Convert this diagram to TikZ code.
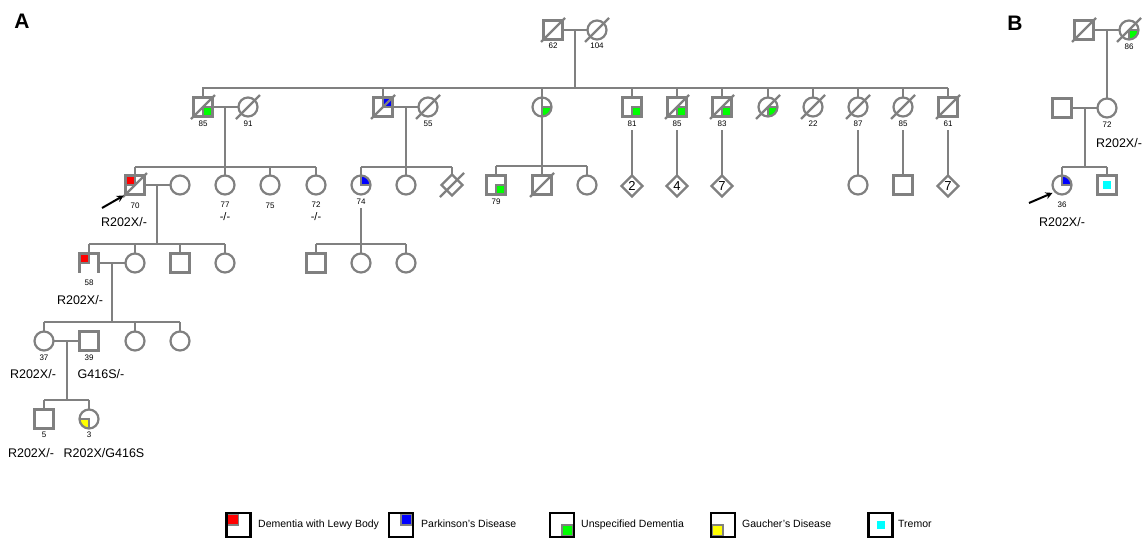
\documentclass[tikz,border=0pt]{standalone}
\usepackage{fontspec}
\setmainfont{Liberation Sans}
\usetikzlibrary{shapes.geometric,arrows.meta}
\definecolor{lin}{RGB}{128,128,128}
\definecolor{cred}{RGB}{255,0,0}
\definecolor{cblue}{RGB}{0,0,255}
\definecolor{cgreen}{RGB}{0,255,0}
\definecolor{cyell}{RGB}{255,255,0}
\definecolor{ccyan}{RGB}{0,255,255}
% deceased: slash through the symbol
\newcommand\dslash[1]{\draw[conn] ([shift={(-12pt,-12pt)}]#1.center) -- ([shift={(12pt,12pt)}]#1.center);}
\begin{document}
\begin{tikzpicture}[x=1pt,y=-1pt,
  conn/.style={draw=lin, line width=2.2pt},
  ind/.style={draw=lin, line width=2.2pt, inner sep=0pt, outer sep=0pt, fill=white},
  male/.style={ind, rectangle, minimum size=19pt},
  female/.style={ind, circle, minimum size=19pt},
  unk/.style={ind, diamond, minimum size=21pt, font=\fontsize{13}{13}\selectfont},
  age/.style={font=\fontsize{8}{8}\selectfont, inner sep=0pt, text height=5.8pt, text depth=0pt},
  geno/.style={font=\fontsize{12.5}{12.5}\selectfont, inner sep=0pt, text height=9pt, text depth=0pt},
  ltext/.style={font=\fontsize{10.5}{10.5}\selectfont, inner sep=0pt, anchor=west, text height=7.6pt, text depth=0pt},
  panel/.style={font=\fontsize{21}{21}\selectfont\bfseries, inner sep=0pt},
  lbox/.style={draw=black, line width=2.5pt, rectangle, minimum size=24pt, inner sep=0pt, outer sep=0pt, fill=white},
  qNW/.style={path picture={\filldraw[fill=#1,draw=lin,line width=1.2pt] (path picture bounding box.center) rectangle ([shift={(1pt,-1pt)}]path picture bounding box.north west);}},
  qNE/.style={path picture={\filldraw[fill=#1,draw=lin,line width=1.2pt] (path picture bounding box.center) rectangle ([shift={(-1pt,-1pt)}]path picture bounding box.north east);}},
  qSE/.style={path picture={\filldraw[fill=#1,draw=lin,line width=1.2pt] (path picture bounding box.center) rectangle ([shift={(-1pt,1pt)}]path picture bounding box.south east);}},
  qSW/.style={path picture={\filldraw[fill=#1,draw=lin,line width=1.2pt] (path picture bounding box.center) rectangle ([shift={(1pt,1pt)}]path picture bounding box.south west);}},
  parrow/.style={draw=black, line width=2pt, -{Stealth[length=7pt,width=7pt]}}
]
\useasboundingbox (0,0) rectangle (1142,539);

\node[panel] (pA) at (22,21) {A};
\node[panel] (pB) at (1015,23) {B};

% ---------------- Panel A ----------------
% Generation I
\node[male] (I1) at (553,30) {}; \dslash{I1}
\node[female] (I2) at (597,30) {}; \dslash{I2}
\node[age] (aI1) at (553,46) {62};
\node[age] (aI2) at (597,46) {104};
\draw[conn] (I1.east) -- (I2.west);
\coordinate (mI) at (575,30);
\coordinate (s2L) at (202,88);
\coordinate (s2R) at (948,88);
\draw[conn] (mI) -- (mI |- s2L);
\draw[conn] (s2L) -- (s2R);

% Generation II
\node[male, qSE=cgreen] (II1) at (203,107) {}; \dslash{II1}
\node[female] (II2) at (248,107) {}; \dslash{II2}
\node[male, qNE=cblue] (II3) at (383,107) {}; \dslash{II3}
\node[female] (II4) at (428,107) {}; \dslash{II4}
\node[female, qSE=cgreen] (II5) at (542,107) {};
\node[male, qSE=cgreen] (II6) at (632,107) {};
\node[male, qSE=cgreen] (II7) at (677,107) {}; \dslash{II7}
\node[male, qSE=cgreen] (II8) at (722,107) {}; \dslash{II8}
\node[female, qSE=cgreen] (II9) at (768,107) {}; \dslash{II9}
\node[female] (II10) at (813,107) {}; \dslash{II10}
\node[female] (II11) at (858,107) {}; \dslash{II11}
\node[female] (II12) at (903,107) {}; \dslash{II12}
\node[male] (II13) at (948,107) {}; \dslash{II13}
\foreach \n in {II1,II3,II5,II6,II7,II8,II9,II10,II11,II12,II13}
  \draw[conn] (\n |- s2L) -- (\n.north);

\node[age] (aII1) at (203,124) {85};
\node[age] (aII2) at (248,124) {91};
\node[age] (aII4) at (428,124) {55};
\node[age] (aII6) at (632,124) {81};
\node[age] (aII7) at (677,124) {85};
\node[age] (aII8) at (722,124) {83};
\node[age] (aII10) at (813,124) {22};
\node[age] (aII11) at (858,124) {87};
\node[age] (aII12) at (903,124) {85};
\node[age] (aII13) at (948,124) {61};

% Generation III
\node[male, qNW=cred] (III1) at (135,185) {}; \dslash{III1}
\node[female] (III2) at (180,185) {};
\node[female] (III3) at (225,185) {};
\node[female] (III4) at (270,185) {};
\node[female] (III5) at (316,185) {};
\node[female, qNE=cblue] (III6) at (361,185) {};
\node[female] (III7) at (406,185) {};
\node[unk] (III8) at (452,185) {}; \dslash{III8}
\node[male, qSE=cgreen] (III9) at (496,185) {};
\node[male] (III10) at (542,185) {}; \dslash{III10}
\node[female] (III11) at (587,185) {};
\node[unk] (III12) at (632,186) {2};
\node[unk] (III13) at (677,186) {4};
\node[unk] (III14) at (722,186) {7};
\node[female] (III15) at (858,185) {};
\node[male] (III16) at (903,185) {};
\node[unk] (III17) at (948,186) {7};

% family of II1 x II2
\draw[conn] (II1.east) -- (II2.west);
\coordinate (m1) at (225,107);
\coordinate (s3a) at (135,167);
\draw[conn] (m1) -- (m1 |- s3a);
\draw[conn] (III1 |- s3a) -- (III5 |- s3a);
\foreach \n in {III1,III3,III4,III5}
  \draw[conn] (\n |- s3a) -- (\n.north);

% family of II3 x II4
\draw[conn] (II3.east) -- (II4.west);
\coordinate (m2) at (406,107);
\coordinate (s3b) at (361,167);
\draw[conn] (m2) -- (m2 |- s3b);
\draw[conn] (III6 |- s3b) -- (III8 |- s3b);
\foreach \n in {III6,III7,III8}
  \draw[conn] (\n |- s3b) -- (\n.north);

% offspring of II5
\coordinate (s3c) at (496,166);
\draw[conn] (II5.north) -- (II5 |- s3c);
\draw[conn] (III9 |- s3c) -- (III11 |- s3c);
\foreach \n in {III9,III10,III11}
  \draw[conn] (\n |- s3c) -- (\n.north);

% single lines of descent
\draw[conn] (aII6.south) ++(0,3) -- (III12.north);
\draw[conn] (aII7.south) ++(0,3) -- (III13.north);
\draw[conn] (aII8.south) ++(0,3) -- (III14.north);
\draw[conn] (aII11.south) ++(0,3) -- (III15.north);
\draw[conn] (aII12.south) ++(0,3) -- (III16.north);
\draw[conn] (aII13.south) ++(0,3) -- (III17.north);

\node[age] (aIII1) at (135,206) {70};
\node[age] (aIII3) at (225,205) {77};
\node[age] (aIII4) at (270,206) {75};
\node[age] (aIII5) at (316,205) {72};
\node[age] (aIII6) at (361,202) {74};
\node[age] (aIII9) at (496,202) {79};
\node[geno, font=\fontsize{11}{11}\selectfont, text height=6pt] (gIII3) at (225,217) {-/-};
\node[geno, font=\fontsize{11}{11}\selectfont, text height=6pt] (gIII5) at (316,217) {-/-};
\node[geno] (gIII1) at (124,222) {R202X/-};
\coordinate (prA) at (102,208);
\draw[parrow, shorten >=2pt] (prA) -- (III1.south west);

% Generation IV
\node[female] (IV2) at (135,263) {};
\node[male, draw=none, qNW=cred] (IV1) at (89,263) {};
\draw[conn] (IV1.south west) -- (IV1.north west) -- (IV1.north east) -- (IV1.south east);
\node[male] (IV3) at (180,263) {};
\node[female] (IV4) at (225,263) {};
\node[male] (IV5) at (316,263) {};
\node[female] (IV6) at (361,263) {};
\node[female] (IV7) at (406,263) {};

\draw[conn] (III1.east) -- (III2.west);
\coordinate (m3) at (157,185);
\coordinate (s4a) at (89,244);
\draw[conn] (m3) -- (m3 |- s4a);
\draw[conn] (IV1 |- s4a) -- (IV4 |- s4a);
\foreach \n in {IV1,IV2,IV3,IV4}
  \draw[conn] (\n |- s4a) -- (\n.north);

\coordinate (s4b) at (316,244);
\draw[conn] (aIII6.south) ++(0,3) -- (III6 |- s4b);
\draw[conn] (IV5 |- s4b) -- (IV7 |- s4b);
\foreach \n in {IV5,IV6,IV7}
  \draw[conn] (\n |- s4b) -- (\n.north);

\node[age] (aIV1) at (89,283) {58};
\node[geno] (gIV1) at (80,300) {R202X/-};

% Generation V
\node[female] (V1) at (44,341) {};
\node[male] (V2) at (89,341) {};
\node[female] (V3) at (135,341) {};
\node[female] (V4) at (180,341) {};
\draw[conn] (IV1.east) -- (IV2.west);
\coordinate (m4) at (112,263);
\coordinate (s5) at (44,322);
\draw[conn] (m4) -- (m4 |- s5);
\draw[conn] (V1 |- s5) -- (V4 |- s5);
\foreach \n in {V1,V3,V4}
  \draw[conn] (\n |- s5) -- (\n.north);
\node[age] (aV1) at (44,358) {37};
\node[age] (aV2) at (89,358) {39};
\node[geno] (gV1) at (33,374) {R202X/-};
\node[geno] (gV2) at (101,374) {G416S/-};

% Generation VI
\node[male] (VI1) at (44,419) {};
\node[female, qSW=cyell] (VI2) at (89,419) {};
\draw[conn] (V1.east) -- (V2.west);
\coordinate (m5) at (67,341);
\coordinate (s6) at (44,400);
\draw[conn] (m5) -- (m5 |- s6);
\draw[conn] (VI1 |- s6) -- (VI2 |- s6);
\foreach \n in {VI1,VI2}
  \draw[conn] (\n |- s6) -- (\n.north);
\node[age] (aVI1) at (44,435) {5};
\node[age] (aVI2) at (89,435) {3};
\node[geno] (gVI1) at (31,453) {R202X/-};
\node[geno] (gVI2) at (104,453) {R202X/G416S};

% ---------------- Panel B ----------------
\node[male] (B1) at (1084,30) {}; \dslash{B1}
\node[female, qSE=cgreen] (B2) at (1129,30) {}; \dslash{B2}
\node[age] (aB2) at (1129,47) {86};
\node[male] (B3) at (1062,108) {};
\node[female] (B4) at (1107,108) {};
\node[age] (aB4) at (1107,125) {72};
\node[geno] (gB4) at (1119,143) {R202X/-};
\node[female, qNE=cblue] (B5) at (1062,185) {};
\node[male] (B6) at (1107,185) {};
\node[fill=ccyan, minimum size=8pt, inner sep=0pt] (B6c) at (B6.center) {};
\node[age] (aB5) at (1062,205) {36};
\node[geno] (gB5) at (1062,222) {R202X/-};

\draw[conn] (B1.east) -- (B2.west);
\coordinate (mB1) at (1107,30);
\draw[conn] (mB1) -- (B4.north);
\draw[conn] (B3.east) -- (B4.west);
\coordinate (mB2) at (1085,108);
\coordinate (sB) at (1062,167);
\draw[conn] (mB2) -- (mB2 |- sB);
\draw[conn] (B5 |- sB) -- (B6 |- sB);
\foreach \n in {B5,B6}
  \draw[conn] (\n |- sB) -- (\n.north);
\coordinate (prB) at (1029,203);
\draw[parrow, shorten >=3pt] (prB) -- (B5.south west);

% ---------------- Legend ----------------
\node[lbox, qNW=cred] (L1) at (238.5,525) {};
\node[ltext] (T1) at (258,524) {Dementia with Lewy Body};
\node[lbox, qNE=cblue] (L2) at (401,525) {};
\node[ltext] (T2) at (421,524) {Parkinson's Disease};
\node[lbox, qSE=cgreen] (L3) at (562,525) {};
\node[ltext] (T3) at (581,524) {Unspecified Dementia};
\node[lbox, qSW=cyell] (L4) at (723,525) {};
\node[ltext] (T4) at (742,524) {Gaucher's Disease};
\node[lbox] (L5) at (880.5,525) {};
\node[fill=ccyan, minimum size=8pt, inner sep=0pt] (L5c) at (L5.center) {};
\node[ltext] (T5) at (898,524) {Tremor};
\end{tikzpicture}
\end{document}
